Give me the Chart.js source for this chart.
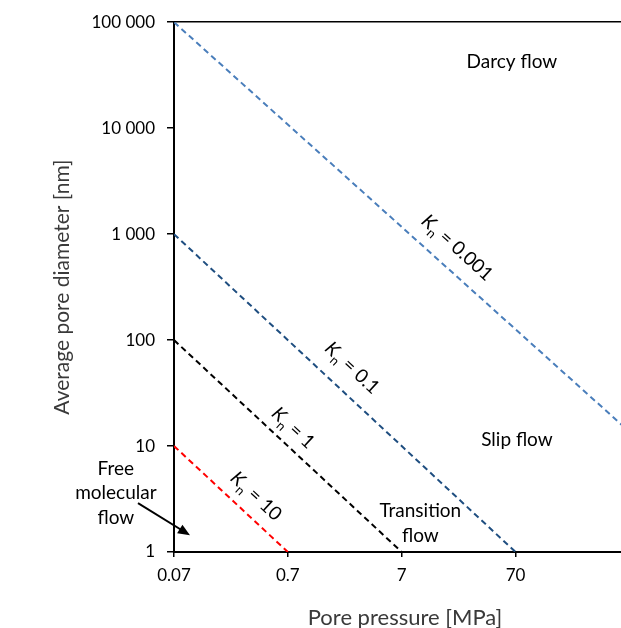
<!DOCTYPE html>
<html>
<head>
<meta charset="utf-8">
<script src="https://cdn.jsdelivr.net/npm/chart.js@4.4.0/dist/chart.umd.min.js"></script>
<style>
  html, body { margin: 0; padding: 0; background: #fff; overflow: hidden; }
</style>
</head>
<body>
<canvas id="knChart" width="636" height="628"></canvas>
<script>
// Knudsen number lines: pore pressure [MPa] vs average pore diameter [nm]
const kn0001Pressure = [0.07, 800];
const kn0001Diameter = [100000, 12];
const kn01Pressure = [0.07, 70];
const kn01Diameter = [1000, 1];
const kn1Pressure = [0.07, 7];
const kn1Diameter = [100, 1];
const kn10Pressure = [0.07, 0.7];
const kn10Diameter = [10, 1];

const xTicks = [0.07, 0.7, 7, 70];
const xTickLabels = ['0.07', '0.7', '7', '70'];
const yTicks = [1, 10, 100, 1000, 10000, 100000];
const yTickLabels = ['1', '10', '100', '1 000', '10 000', '100 000'];

const FONT = 'Lato, "Open Sans", sans-serif';

function toPoints(px, py) {
  return px.map((p, i) => ({ x: p, y: py[i] }));
}

function lineSet(label, px, py, color) {
  return {
    label: label,
    data: toPoints(px, py),
    borderColor: color,
    borderWidth: 2,
    borderDash: [6, 4],
    pointRadius: 0,
    fill: false,
    tension: 0
  };
}

// text placed in data space (pressure, diameter)
const regionNotes = [
  { lines: ['Darcy flow'], p: 65, d: 42500 },
  { lines: ['Slip flow'], p: 72, d: 11.4 },
  { lines: ['Transition', 'flow'], p: 10.2, d: 1.87 },
  { lines: ['Free', 'molecular', 'flow'], p: 0.0216, d: 3.6 }
];
const knNotes = [
  { value: '0.001', line: 0, p: 21.5, d: 742 },
  { value: '0.1', line: 1, p: 2.57, d: 54.5 },
  { value: '1', line: 2, p: 0.778, d: 14.8 },
  { value: '10', line: 3, p: 0.368, d: 3.36 }
];
const arrowFrom = { p: 0.0338, d: 2.89 };
const arrowTo = { p: 0.0967, d: 1.44 };

const notesPlugin = {
  id: 'notes',
  afterDatasetsDraw(chart) {
    const ctx = chart.ctx;
    const xs = chart.scales.x, ys = chart.scales.y;
    ctx.save();
    ctx.fillStyle = '#000';
    ctx.textAlign = 'center';
    ctx.textBaseline = 'middle';
    ctx.font = '19px ' + FONT;
    regionNotes.forEach(n => {
      const cx = xs.getPixelForValue(n.p);
      const cy = ys.getPixelForValue(n.d);
      const lh = 24.5;
      const y0 = cy - (n.lines.length - 1) * lh / 2;
      n.lines.forEach((t, i) => ctx.fillText(t, cx, y0 + i * lh));
    });

    knNotes.forEach(n => {
      const pts = chart.data.datasets[n.line].data;
      const x0 = xs.getPixelForValue(pts[0].x), y0 = ys.getPixelForValue(pts[0].y);
      const x1 = xs.getPixelForValue(pts[1].x), y1 = ys.getPixelForValue(pts[1].y);
      const ang = Math.atan2(y1 - y0, x1 - x0);
      ctx.save();
      ctx.translate(xs.getPixelForValue(n.p), ys.getPixelForValue(n.d));
      ctx.rotate(ang);
      ctx.textAlign = 'left';
      ctx.textBaseline = 'alphabetic';
      const rest = ' = ' + n.value;
      ctx.font = 'italic 19px ' + FONT;
      const wK = ctx.measureText('K').width;
      ctx.font = '13px ' + FONT;
      const wn = ctx.measureText('n').width;
      ctx.font = '19px ' + FONT;
      const wr = ctx.measureText(rest).width;
      let x = -(wK + wn + wr) / 2;
      ctx.font = 'italic 19px ' + FONT;
      ctx.fillText('K', x, 6);
      x += wK;
      ctx.font = '13px ' + FONT;
      ctx.fillText('n', x, 11);
      x += wn;
      ctx.font = '19px ' + FONT;
      ctx.fillText(rest, x, 6);
      ctx.restore();
    });

    // arrow to the free molecular flow corner
    const ax0 = xs.getPixelForValue(arrowFrom.p), ay0 = ys.getPixelForValue(arrowFrom.d);
    const ax1 = xs.getPixelForValue(arrowTo.p), ay1 = ys.getPixelForValue(arrowTo.d);
    const a = Math.atan2(ay1 - ay0, ax1 - ax0);
    const head = 13;
    ctx.strokeStyle = '#000';
    ctx.lineWidth = 2;
    ctx.beginPath();
    ctx.moveTo(ax0, ay0);
    ctx.lineTo(ax1 - Math.cos(a) * head * 0.8, ay1 - Math.sin(a) * head * 0.8);
    ctx.stroke();
    ctx.beginPath();
    ctx.moveTo(ax1, ay1);
    ctx.lineTo(ax1 - head * Math.cos(a - 0.4), ay1 - head * Math.sin(a - 0.4));
    ctx.lineTo(ax1 - head * Math.cos(a + 0.4), ay1 - head * Math.sin(a + 0.4));
    ctx.closePath();
    ctx.fill();
    ctx.restore();
  }
};

const ctx = document.getElementById('knChart').getContext('2d');
const knChart = new Chart(ctx, {
  type: 'line',
  data: {
    datasets: [
      lineSet('Kn = 0.001', kn0001Pressure, kn0001Diameter, '#4a7ebb'),
      lineSet('Kn = 0.1', kn01Pressure, kn01Diameter, '#1f4e80'),
      lineSet('Kn = 1', kn1Pressure, kn1Diameter, '#000000'),
      lineSet('Kn = 10', kn10Pressure, kn10Diameter, '#ff0000')
    ]
  },
  options: {
    responsive: false,
    animation: false,
    layout: { padding: { top: 22, right: 0, bottom: 0, left: 0 } },
    plugins: {
      legend: { display: false },
      tooltip: { enabled: false }
    },
    scales: {
      x: {
        type: 'logarithmic',
        min: 0.07,
        max: 800,
        afterBuildTicks: s => { s.ticks = xTicks.map(v => ({ value: v })); },
        afterFit: s => { s.height = 76; },
        ticks: {
          autoSkip: false,
          maxRotation: 0,
          padding: 8,
          color: '#000',
          font: { family: FONT, size: 17 },
          callback: (v, i) => xTickLabels[i]
        },
        grid: { drawOnChartArea: false, tickLength: 5, color: '#000', lineWidth: 1.5 },
        border: { color: '#000', width: 2 },
        title: {
          display: true,
          text: 'Pore pressure [MPa]',
          color: '#3a3a3a',
          font: { family: FONT, size: 22 },
          padding: { top: 0, bottom: -3 }
        }
      },
      y: {
        type: 'logarithmic',
        min: 1,
        max: 100000,
        afterBuildTicks: s => { s.ticks = yTicks.map(v => ({ value: v })); },
        afterFit: s => { s.width = 174; },
        ticks: {
          autoSkip: false,
          padding: 12,
          color: '#000',
          font: { family: FONT, size: 17 },
          callback: (v, i) => yTickLabels[i]
        },
        grid: {
          drawOnChartArea: true,
          tickLength: 7,
          lineWidth: 1.5,
          tickColor: '#000',
          color: c => (c.tick && c.tick.value === 100000) ? '#000' : 'rgba(0,0,0,0)'
        },
        border: { color: '#000', width: 2 },
        title: {
          display: true,
          text: 'Average pore diameter [nm]',
          color: '#3a3a3a',
          font: { family: FONT, size: 21 },
          padding: { top: 50, bottom: 0 }
        }
      }
    }
  },
  plugins: [notesPlugin]
});
</script>
</body>
</html>
